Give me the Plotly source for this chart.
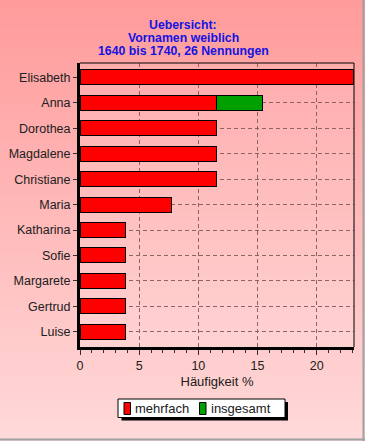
import plotly.graph_objects as go

names = ["Elisabeth", "Anna", "Dorothea", "Magdalene", "Christiane", "Maria",
         "Katharina", "Sofie", "Margarete", "Gertrud", "Luise"]
mehrfach = [23.08, 11.54, 11.54, 11.54, 11.54, 7.69, 3.85, 3.85, 3.85, 3.85, 3.85]
insgesamt = [0.0, 3.85, 0.0, 0.0, 0.0, 0.0, 0.0, 0.0, 0.0, 0.0, 0.0]
series_names = ["mehrfach", "insgesamt"]
series_colors = ["#ff0000", "#00a000"]
title_lines = ["Uebersicht:", "Vornamen weiblich", "1640 bis 1740, 26 Nennungen"]
x_title = "Häufigkeit %"

W, H = 365, 441
ML, MR, MT, MB = 80, 11, 63, 94
PW, PH = W - ML - MR, H - MT - MB
FONT = "Liberation Sans, Arial"
FS = 13
TFS = 12.5

def px2paper_x(px):
    return (px - ML) / PW

def px2paper_y(py):
    return (H - MB - py) / PH

def lerp(c1, c2, t):
    return "rgb(%d,%d,%d)" % tuple(round(a + (b - a) * t) for a, b in zip(c1, c2))

def prect(x0, y0, x1, y1, **kw):
    return dict(type="rect", xref="paper", yref="paper",
                x0=px2paper_x(x0), x1=px2paper_x(x1),
                y0=px2paper_y(y1), y1=px2paper_y(y0), **kw)

shapes = []
# outer gradient background
n = 63
top_c, bot_c = (255, 154, 154), (255, 218, 218)
for i in range(n):
    y0 = H * i / n
    y1 = H * (i + 1) / n + 0.6
    shapes.append(prect(0, y0, W, y1, layer="below",
                        fillcolor=lerp(top_c, bot_c, (i + 0.5) / n), line=dict(width=0)))
# plot area gradient
n2 = 40
ptop, pbot = (255, 172, 172), (255, 210, 210)
for i in range(n2):
    y0 = i / n2
    y1 = (i + 1) / n2 + 0.003
    shapes.append(dict(type="rect", xref="paper", yref="paper", layer="below",
                       x0=0, x1=1, y0=1 - y1, y1=1 - y0,
                       fillcolor=lerp(ptop, pbot, (i + 0.5) / n2), line=dict(width=0)))
# top and right thin border of plot area
shapes.append(dict(type="line", xref="paper", yref="paper", x0=0, x1=1, y0=1, y1=1,
                   line=dict(color="black", width=1)))
shapes.append(dict(type="line", xref="paper", yref="paper", x0=1, x1=1, y0=0, y1=1,
                   line=dict(color="black", width=1)))
# window border right/bottom
shapes.append(dict(type="line", xref="paper", yref="paper",
                   x0=px2paper_x(W - 1.5), x1=px2paper_x(W - 1.5),
                   y0=px2paper_y(H), y1=px2paper_y(0), line=dict(color="#a0a0a0", width=2)))
shapes.append(dict(type="line", xref="paper", yref="paper",
                   x0=px2paper_x(0), x1=px2paper_x(W),
                   y0=px2paper_y(H - 1.5), y1=px2paper_y(H - 1.5), line=dict(color="#a0a0a0", width=2)))

# legend box with shadow
shapes.append(prect(121.5, 402, 288, 420.5, fillcolor="black", line=dict(width=0)))
shapes.append(prect(118, 399, 285, 417.5, fillcolor="white", line=dict(color="black", width=1)))
legend_items = [(124, 133), (199.5, 208.5)]
annotations = []
for (sx, tx), nm, col in zip(legend_items, series_names, series_colors):
    shapes.append(prect(sx, 402.5, sx + 6.5, 414.5, fillcolor=col,
                        line=dict(color="black", width=1)))
    annotations.append(dict(text=nm, xref="paper", yref="paper", x=px2paper_x(tx),
                            y=px2paper_y(408.5), xanchor="left", yanchor="middle",
                            showarrow=False,
                            font=dict(family=FONT, size=FS, color="#202020")))

fig = go.Figure()
for vals, nm, col in zip([mehrfach, insgesamt], series_names, series_colors):
    fig.add_trace(go.Bar(y=names, x=vals, orientation="h", name=nm,
                         marker=dict(color=col, line=dict(color="black", width=1)),
                         width=0.59))

for line, yc in zip(title_lines, [25, 37.8, 50.6]):
    annotations.append(dict(text="<b>%s</b>" % line, xref="paper", yref="paper",
                            x=px2paper_x(183), y=px2paper_y(yc), xanchor="center",
                            yanchor="middle", showarrow=False,
                            font=dict(family=FONT, size=12.3, color="#1414e0")))

fig.update_layout(
    width=W, height=H,
    margin=dict(l=ML, r=MR, t=MT, b=MB, pad=0),
    paper_bgcolor="#ffdada",
    plot_bgcolor="rgba(0,0,0,0)",
    barmode="stack",
    shapes=shapes,
    annotations=annotations,
    font=dict(family=FONT, size=FS, color="#202020"),
    showlegend=False,
    xaxis=dict(range=[0, 23.15], dtick=5, tick0=0, showline=True, linewidth=3,
               linecolor="black", ticks="outside", ticklen=5, tickwidth=1,
               tickcolor="#303030", showgrid=True, gridcolor="#8c6464",
               griddash="4px,3px", gridwidth=1, zeroline=False, automargin=False,
               tickfont=dict(size=TFS),
               minor=dict(dtick=1, ticks="outside", ticklen=3, tickcolor="#303030", showgrid=False),
               title=dict(text=x_title, standoff=5, font=dict(size=FS))),
    yaxis=dict(range=[10.6, -0.57], showline=True, linewidth=3, linecolor="black",
               ticks="outside", ticklen=4, tickcolor="#303030", showgrid=True,
               gridcolor="#8c6464", griddash="4px,3px", gridwidth=1, zeroline=False,
               automargin=False, tickfont=dict(size=TFS)),
)

fig.write_html("out.html")
